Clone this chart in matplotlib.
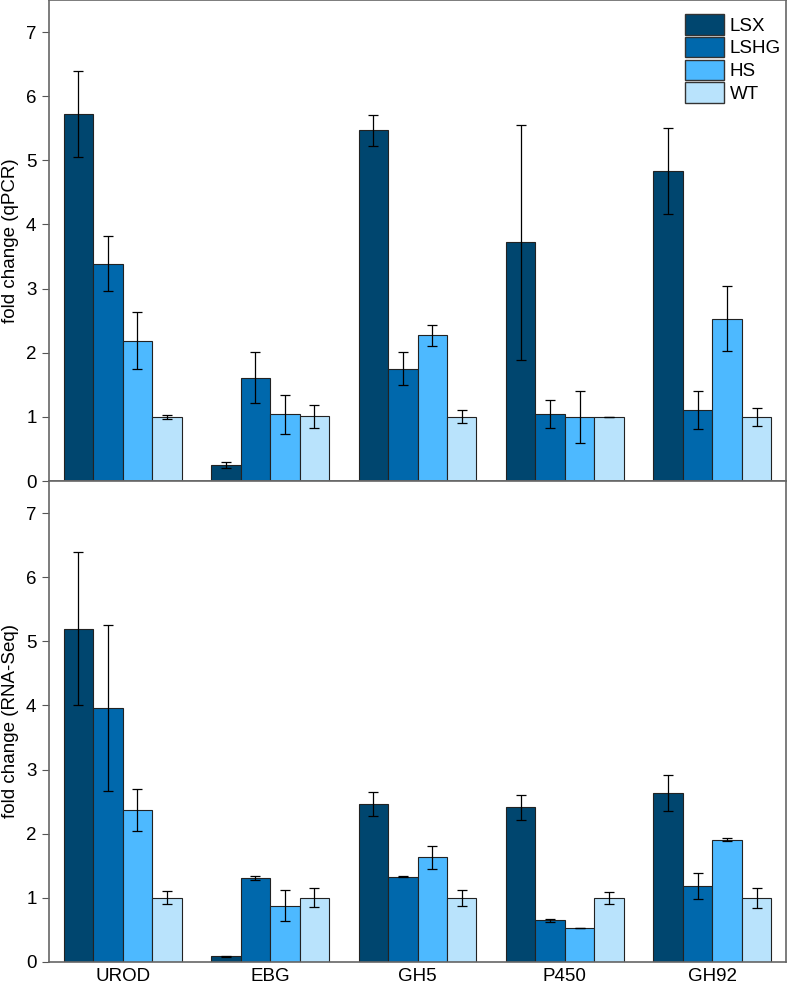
import matplotlib
matplotlib.use("Agg")
import matplotlib.pyplot as plt
from matplotlib.patches import Patch
import numpy as np

plt.rcParams['font.family'] = ['Liberation Sans', 'DejaVu Sans']

genes = ["UROD", "EBG", "GH5", "P450", "GH92"]
strains = ["LSX", "LSHG", "HS", "WT"]
colors = ["#00466F", "#0068AC", "#4DB9FF", "#B9E3FC"]

# qPCR fold change, one list per strain (order of genes)
qpcr_lsx = [5.72, 0.25, 5.47, 3.72, 4.83]
qpcr_lshg = [3.39, 1.61, 1.75, 1.04, 1.11]
qpcr_hs = [2.19, 1.04, 2.27, 1.00, 2.53]
qpcr_wt = [1.00, 1.01, 1.00, 1.00, 1.00]
qpcr_lsx_err = [0.67, 0.05, 0.24, 1.83, 0.67]
qpcr_lshg_err = [0.43, 0.40, 0.26, 0.22, 0.30]
qpcr_hs_err = [0.45, 0.30, 0.16, 0.41, 0.51]
qpcr_wt_err = [0.03, 0.18, 0.10, 0.005, 0.14]

# RNA-Seq fold change
rna_lsx = [5.20, 0.09, 2.46, 2.41, 2.63]
rna_lshg = [3.96, 1.31, 1.33, 0.65, 1.19]
rna_hs = [2.37, 0.88, 1.63, 0.53, 1.91]
rna_wt = [1.00, 1.00, 1.00, 1.00, 1.00]
rna_lsx_err = [1.19, 0.005, 0.19, 0.20, 0.28]
rna_lshg_err = [1.30, 0.03, 0.005, 0.02, 0.20]
rna_hs_err = [0.33, 0.24, 0.18, 0.005, 0.02]
rna_wt_err = [0.10, 0.15, 0.13, 0.09, 0.16]

panels = [
    ("fold change (qPCR)", [qpcr_lsx, qpcr_lshg, qpcr_hs, qpcr_wt],
     [qpcr_lsx_err, qpcr_lshg_err, qpcr_hs_err, qpcr_wt_err]),
    ("fold change (RNA-Seq)", [rna_lsx, rna_lshg, rna_hs, rna_wt],
     [rna_lsx_err, rna_lshg_err, rna_hs_err, rna_wt_err]),
]

fig = plt.figure(figsize=(7.88, 9.85), dpi=100)
ax_top = fig.add_axes([49 / 788, (985 - 481) / 985, (786 - 49) / 788, 481 / 985])
ax_bot = fig.add_axes([49 / 788, (985 - 962) / 985, (786 - 49) / 788, 481 / 985], sharex=ax_top)

x = np.arange(len(genes))
width = 0.2
offsets = [-0.3, -0.1, 0.1, 0.3]

for ax, (ylabel, series, errs) in zip([ax_top, ax_bot], panels):
    for vals, err, off, c in zip(series, errs, offsets, colors):
        ax.bar(x + off, vals, width, color=c, edgecolor="#222222", linewidth=0.8,
               yerr=err, capsize=3.5, error_kw=dict(ecolor="black", elinewidth=0.9, capthick=0.9),
               zorder=2)
    ax.set_ylim(0, 7.5)
    ax.set_yticks(range(8))
    ax.set_xlim(-0.5, 4.5)
    ax.set_ylabel(ylabel, fontsize=13.5, labelpad=5)
    ax.tick_params(axis="y", labelsize=13.5, direction="out", length=5, pad=4, color="#555555")
    for s in ax.spines.values():
        s.set_color("#666666")
        s.set_linewidth(1.2)

ax_top.tick_params(axis="x", bottom=False, labelbottom=False)
ax_bot.set_xticks(x)
ax_bot.set_xticklabels(genes)
ax_bot.tick_params(axis="x", length=0, labelsize=13.5, pad=4)

handles = [Patch(facecolor=c, edgecolor="#333333", linewidth=1.0, label=s)
           for c, s in zip(colors, strains)]
ax_top.legend(handles=handles, loc="upper right", frameon=False, fontsize=13.5,
              handlelength=2.1, handleheight=1.3, labelspacing=0.12, handletextpad=0.3,
              borderaxespad=0.35, bbox_to_anchor=(1.012, 1.0))

fig.savefig("out.png", dpi=100)
